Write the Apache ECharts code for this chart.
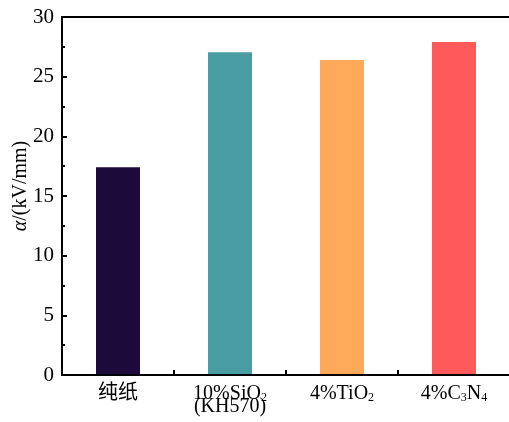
<!DOCTYPE html>
<html><head><meta charset="utf-8">
<script src="https://cdn.jsdelivr.net/npm/echarts@6/dist/echarts.min.js"></script>
<style>html,body{margin:0;padding:0;background:#fff}#c{width:509px;height:422px}</style>
</head><body><div id="c"></div>
<script>
const categories = ['纯纸', '10%SiO2(KH570)', '4%TiO2', '4%C3N4'];
const categoryLabels = ['{n|纯纸}', '{n|10%SiO}{s|2}\n{t|(KH570)}', '{n|4%TiO}{s|2}', '{n|4%C}{s|3}{n|N}{s|4}'];
const values = [17.4, 27.05, 26.4, 27.9];
const barColors = ['#1b0a3a', '#4a9ca3', '#ffaa5a', '#ff5a5a'];
const yTicks = [0, 5, 10, 15, 20, 25, 30];

const font = '"Liberation Serif", "Times New Roman", "Noto Sans CJK SC", serif';
const chart = echarts.init(document.getElementById('c'));
chart.setOption({
  animation: false,
  backgroundColor: '#fff',
  grid: { left: 62, top: 17, right: -1, bottom: 47, containLabel: false, outerBoundsMode: 'none' },
  xAxis: [
    {
      type: 'category', data: categories, position: 'bottom', z: 10,
      axisLine: { onZero: false, lineStyle: { color: '#000', width: 2 } },
      axisTick: { show: false },
      axisLabel: {
        interval: 0, color: '#000', fontFamily: font, fontSize: 20, margin: 9,
        formatter: (v, i) => categoryLabels[i],
        rich: {
          n: { fontFamily: font, fontSize: 20, color: '#000', lineHeight: 20 },
          s: { fontFamily: font, fontSize: 12, verticalAlign: 'bottom', padding: [8, 0, 0, 0], color: '#000', lineHeight: 20 },
          t: { fontFamily: font, fontSize: 20, color: '#000', lineHeight: 6 }
        }
      }
    },
    {
      type: 'category', data: categories, position: 'top', z: 10,
      axisLine: { onZero: false, lineStyle: { color: '#000', width: 2 } },
      axisTick: { show: false }, axisLabel: { show: false }
    },
    {
      // tick-only axis on the bottom edge: short ticks at category boundaries
      type: 'value', min: 0, max: 4, interval: 1, position: 'top', offset: -358, z: 10, zlevel: 1,
      axisLine: { show: false, onZero: false },
      axisTick: { show: true, inside: false, length: 3, lineStyle: { color: '#000', width: 2 } },
      splitLine: { show: false },
      axisLabel: { show: false }
    },
    {
      // tick-only axis on the bottom edge: longer ticks at category centres (drawn above the bars)
      type: 'value', min: -0.5, max: 3.5, interval: 1, position: 'top', offset: -358, z: 10, zlevel: 1,
      axisLine: { show: false, onZero: false },
      axisTick: { show: true, inside: false, length: 5, lineStyle: { color: '#000', width: 2 } },
      splitLine: { show: false },
      axisLabel: { show: false }
    }
  ],
  yAxis: {
    type: 'value', min: 0, max: 30, interval: 5, z: 10,
    name: '{i|α}{n|/(kV/mm)}', nameLocation: 'middle', nameGap: 31, nameRotate: 90, nameMoveOverlap: false,
    nameTextStyle: {
      color: '#000', fontFamily: font, fontSize: 20, padding: [0, 0, 0, 20],
      rich: {
        i: { fontStyle: 'italic', fontFamily: font, fontSize: 20, color: '#000' },
        n: { fontFamily: font, fontSize: 20, color: '#000' }
      }
    },
    axisLine: { show: true, onZero: false, lineStyle: { color: '#000', width: 2 } },
    axisTick: { inside: true, length: 5, lineStyle: { color: '#000', width: 2 } },
    minorTick: { show: true, splitNumber: 2, length: 3, lineStyle: { color: '#000', width: 2 } },
    splitLine: { show: false },
    axisLabel: { color: '#000', fontFamily: font, fontSize: 21, margin: 8,
      formatter: v => yTicks.includes(v) ? String(v) : '' }
  },
  series: [{
    type: 'bar', xAxisIndex: 0, barWidth: 44, z: 1,
    data: values.map((v, i) => ({ value: v, itemStyle: { color: barColors[i] } }))
  }]
});
</script></body></html>
